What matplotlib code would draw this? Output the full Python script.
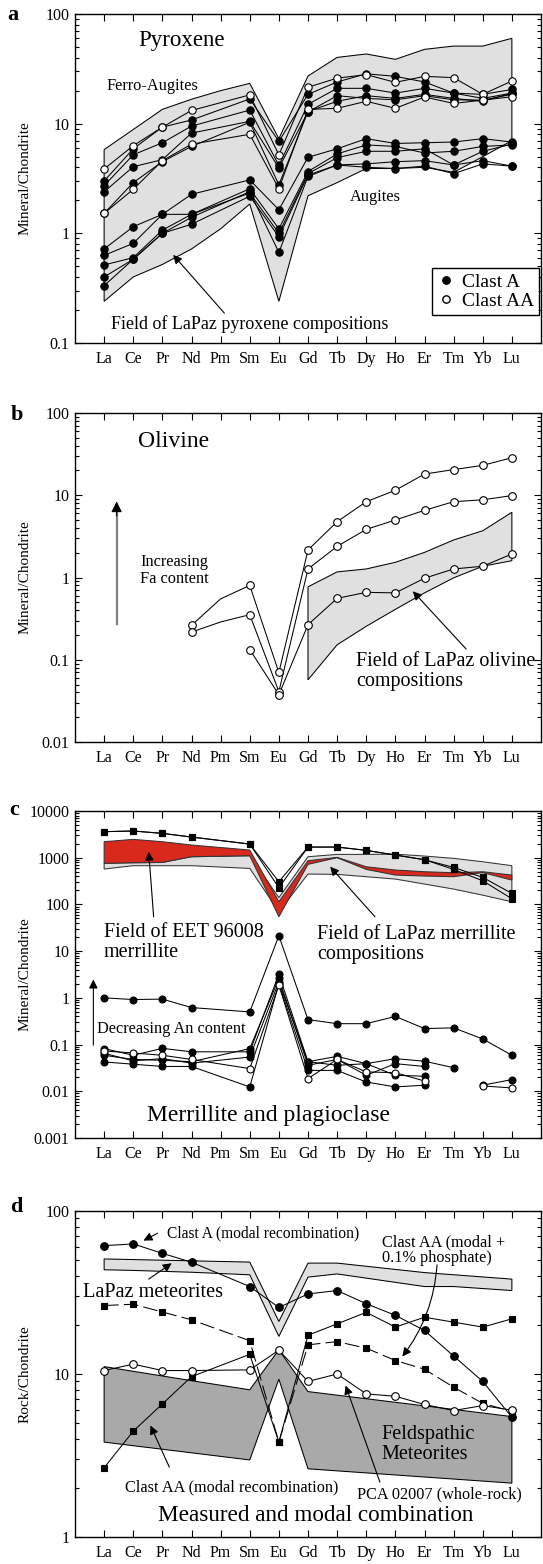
import numpy as np
import matplotlib
matplotlib.use("Agg")
import matplotlib.pyplot as plt
from matplotlib.lines import Line2D
from matplotlib.ticker import FixedLocator, LogLocator, NullFormatter

plt.rcParams['font.family'] = ['Liberation Serif', 'DejaVu Serif']
plt.rcParams['mathtext.default'] = 'regular'

nan = np.nan
REE = ['La', 'Ce', 'Pr', 'Nd', 'Pm', 'Sm', 'Eu', 'Gd', 'Tb', 'Dy', 'Ho', 'Er', 'Tm', 'Yb', 'Lu']

# ---------------- Panel a: pyroxene ----------------
pyx_clastA = [
    [3.0, 5.9, 9.3, 10.8, nan, 16.8, 6.9, 18.5, 24, 28.5, 27, 24, 19, 18.5, 20.5],
    [2.72, 5.2, 6.7, 9.5, nan, 13.3, 4.16, 15, 21, 21, 19, 21, 19, 17, 19],
    [2.39, 4.05, 4.7, 8.2, nan, 10.5, 3.95, 12.8, 18, 17, 16.5, 18, 16.5, 16.4, 18.5],
    [1.52, 2.9, 4.5, 6.2, nan, 10.3, 2.77, 12.9, 16, 18, 17, 18.5, 17, 16, 19],
    [0.72, 1.15, 1.49, 2.27, nan, 3.07, 1.64, 4.94, 5.9, 7.3, 6.6, 6.7, 6.8, 7.3, 6.8],
    [0.63, 0.81, 1.49, 1.49, nan, 2.55, 1.10, 3.66, 5.3, 6.4, 6.2, 5.4, 5.6, 6.2, 6.4],
    [0.515, 0.60, 1.07, 1.49, nan, 2.33, 1.0, 3.5, 4.9, 5.6, 5.6, 5.9, 4.2, 5.6, 6.5],
    [0.40, 0.58, 1.0, 1.21, nan, 2.18, 0.93, 3.4, 4.2, 4.3, 4.5, 4.6, 4.2, 4.6, 4.1],
    [0.333, 0.58, 1.0, 1.40, nan, 2.4, 0.67, 3.3, 4.2, 4.0, 3.9, 4.1, 3.5, 4.3, 4.1],
]
pyx_clastAA = [
    [3.86, 6.3, 9.3, 13.2, nan, 18.3, 5.2, 21.5, 26, 28, 23.8, 27, 26.3, 18.5, 24.5],
    [1.52, 2.52, 4.6, 6.5, nan, 8.0, 2.55, 13.5, 13.8, 16, 13.8, 17.5, 15.3, 16.4, 17.6],
]
pyx_field_upper_el = ['La', 'Pr', 'Nd', 'Pm', 'Sm', 'Eu', 'Gd', 'Tb', 'Dy', 'Ho', 'Er', 'Tm', 'Yb', 'Lu']
pyx_field_upper = [5.8, 13.5, 16.7, 20, 23.3, 7.3, 27.2, 40.2, 43.2, 38.6, 47.6, 51, 51, 60]
pyx_field_lower_el = ['La', 'Ce', 'Pr', 'Nd', 'Pm', 'Sm', 'Eu', 'Gd', 'Tb', 'Dy', 'Ho', 'Er', 'Tm', 'Yb', 'Lu']
pyx_field_lower = [0.24, 0.40, 0.52, 0.72, 1.1, 1.85, 0.24, 2.2, 2.9, 3.9, 3.9, 4.0, 3.6, 5.0, 7.0]

# ---------------- Panel b: olivine ----------------
oli_clastAA = [
    [nan, nan, nan, 0.262, 0.55, 0.80, 0.070, 2.16, 4.77, 8.35, 11.5, 18.1, 20.5, 23.1, 28.6],
    [nan, nan, nan, 0.217, 0.288, 0.353, 0.041, 1.27, 2.39, 3.85, 5.0, 6.56, 8.35, 8.8, 9.9],
    [nan, nan, nan, nan, nan, 0.133, 0.0376, 0.267, 0.558, 0.66, 0.65, 0.98, 1.27, 1.37, 1.93],
]
oli_field_el = ['Gd', 'Tb', 'Dy', 'Ho', 'Er', 'Tm', 'Yb', 'Lu']
oli_field_upper = [0.77, 1.17, 1.27, 1.53, 2.02, 2.86, 3.7, 6.2]
oli_field_lower = [0.057, 0.152, 0.255, 0.41, 0.65, 0.99, 1.37, 1.6]

# ---------------- Panel c: merrillite and plagioclase ----------------
merr_clastA = [
    [3610, 3730, 3320, 2770, nan, 1960, 306, 1690, 1690, 1436, 1140, 906, 621, 379, 172],
    [3610, 3730, 3320, 2770, nan, 1960, 228, 1690, 1690, 1436, 1140, 906, 562, 321, 132],
]
plag_clastA = [
    [1.0, 0.92, 0.94, 0.62, nan, 0.50, 21.3, 0.343, 0.28, 0.28, 0.40, 0.22, 0.228, 0.132, 0.059],
    [0.082, 0.059, 0.083, 0.070, nan, 0.070, 3.2, 0.043, 0.056, 0.039, 0.050, 0.044, 0.032, nan, nan],
    [0.059, 0.048, 0.046, 0.043, nan, 0.082, 2.6, 0.036, 0.048, 0.022, 0.039, 0.034, nan, nan, nan],
    [0.0425, 0.038, 0.034, 0.034, nan, 0.0124, 2.0, 0.028, 0.028, 0.0158, 0.0124, 0.0135, nan, nan, nan],
    [0.065, 0.045, 0.050, 0.040, nan, 0.054, 2.2, 0.043, 0.036, 0.039, 0.022, 0.021, nan, nan, nan],
    [nan, nan, nan, nan, nan, nan, nan, nan, nan, nan, nan, nan, nan, 0.0135, 0.0178],
]
plag_clastAA = [
    [0.073, 0.066, 0.059, 0.048, nan, 0.0306, 1.87, 0.0187, 0.048, 0.026, 0.025, 0.0166, nan, nan, nan],
    [nan, nan, nan, nan, nan, nan, nan, nan, nan, nan, nan, nan, nan, 0.013, 0.0118],
]
eet_upper = [2200, 2470, 2200, 1870, nan, 1460, 114, 862, 1016, 641, 545, 501, 477, 501, 425]
eet_lower = [757, 781, 794, 1050, nan, 1104, 54.5, 720, 1000, 562, 425, 405, 392, 480, 332]
lpm_upper = [760, 780, 790, 1050, nan, 1100, 140, 1050, 1178, 1178, 1190, 1086, 968, 820, 675]
lpm_lower = [572, 675, 675, 675, nan, 590, 70, 447, 440, 392, 349, 273, 213, 158, 114]

# ---------------- Panel d: measured and modal combination ----------------
rock_clastA_modal = [61.3, 62.8, 55, 48.5, nan, 34.4, 25.6, 31, 32.5, 27, 22.9, 18.5, 12.9, 9.0, 5.43]
rock_clastAA_modal = [2.66, 4.46, 6.55, 9.63, nan, 13.2, 3.82, 17.3, 20.3, 23.9, 19.4, 22.3, 20.8, 19.4, 21.8]
rock_clastAA_phos = [26.3, 26.8, 24, 21.5, nan, 16, 3.82, 15.1, 15.8, 14.4, 12.1, 10.7, 8.3, 6.6, 5.9]
rock_pca02007 = [10.5, 11.5, 10.5, 10.5, nan, 10.6, 14.0, 9.0, 10.0, 7.55, 7.3, 6.5, 5.97, 6.4, 6.0]
lpz_met_upper_el = ['La', 'Sm', 'Eu', 'Gd', 'Tb', 'Er', 'Lu']
lpz_met_upper = [50.8, 48.6, 21.0, 47.9, 47.9, 41.9, 38.2]
lpz_met_lower_el = ['La', 'Ce', 'Nd', 'Sm', 'Eu', 'Gd', 'Tb', 'Er', 'Tm', 'Lu']
lpz_met_lower = [43.6, 43.2, 42.1, 40.6, 17.0, 39.3, 41.1, 34.4, 34.4, 32.5]
feld_upper_el = ['La', 'Nd', 'Sm', 'Eu', 'Gd', 'Lu']
feld_upper = [11.1, 9.1, 8.0, 14.1, 7.8, 5.48]
feld_lower_el = ['La', 'Sm', 'Eu', 'Gd', 'Lu']
feld_lower = [3.82, 2.97, 9.3, 2.62, 2.14]

# ---------------- helpers ----------------
XPOS = {el: i + 1 for i, el in enumerate(REE)}
W, H = 543, 1564
fig = plt.figure(figsize=(W / 100, H / 100), dpi=100)

def make_ax(top_px, bot_px, ylo, yhi, majors, ylabel):
    ax = fig.add_axes([75 / W, 1 - bot_px / H, (541 - 75) / W, (bot_px - top_px) / H])
    ax.set_yscale('log')
    ax.set_xlim(0, 16)
    ax.set_ylim(ylo, yhi)
    ax.set_xticks(range(1, 16))
    ax.set_xticklabels(REE, fontsize=11.5)
    ax.yaxis.set_major_locator(FixedLocator(majors))
    ax.set_yticklabels([('%g' % m) for m in majors], fontsize=11.5)
    ax.yaxis.set_minor_locator(LogLocator(base=10, subs=np.arange(2, 10)))
    ax.yaxis.set_minor_formatter(NullFormatter())
    ax.tick_params(which='both', direction='in', top=True, right=True, width=0.8)
    ax.tick_params(axis='x', which='major', length=5, pad=6)
    ax.tick_params(axis='y', which='major', length=5, pad=4)
    ax.tick_params(axis='y', which='minor', length=3)
    for s in ax.spines.values():
        s.set_linewidth(1.0)
    ax.set_ylabel(ylabel, fontsize=11)
    ax.yaxis.set_label_coords(-0.094, 0.5)
    return ax

def series(ax, vals, filled=True, ms=5.3, marker='o', ls='-', mfc=None):
    v = np.array(vals, float)
    x = np.arange(1, 16)
    keep = ~(np.isnan(v) & (x == 5))
    ax.plot(x[keep], v[keep], ls=ls, color='k', lw=0.75, zorder=3)
    m = ~np.isnan(v) & (x != 5)
    face = mfc if mfc is not None else ('k' if filled else 'white')
    ax.plot(x[m], v[m], ls='none', marker=marker, mfc=face, mec='k',
            ms=ms, mew=0.8, zorder=4)

def field(ax, up_el, up, lo_el, lo, color, zorder=1):
    xs = [XPOS[e] for e in up_el] + [XPOS[e] for e in lo_el][::-1]
    ys = list(up) + list(lo)[::-1]
    ax.fill(xs, ys, facecolor=color, edgecolor='k', lw=0.75, zorder=zorder)

def field_full(ax, up, lo, color, zorder=1):
    u = np.array(up, float); l = np.array(lo, float)
    x = np.arange(1, 16)
    mu = ~np.isnan(u); ml = ~np.isnan(l)
    xs = list(x[mu]) + list(x[ml][::-1])
    ys = list(u[mu]) + list(l[ml][::-1])
    ax.fill(xs, ys, facecolor=color, edgecolor='#333333', lw=0.75, zorder=zorder)

def arrow(ax, tail, tip, color='k', fc='k', lw=0.8, ms=13, rad=0.0):
    ax.annotate('', xy=tip, xytext=tail,
                arrowprops=dict(arrowstyle='-|>', ec=color, fc=fc, lw=lw,
                                mutation_scale=ms, shrinkA=0, shrinkB=0,
                                connectionstyle='arc3,rad=%g' % rad), zorder=6)

# ---------------- Panel a ----------------
axa = make_ax(14, 343, 0.1, 100, [0.1, 1, 10, 100], 'Mineral/Chondrite')
field(axa, pyx_field_upper_el, pyx_field_upper, pyx_field_lower_el, pyx_field_lower, '#e0e0e0')
for s in pyx_clastA:
    series(axa, s, filled=True)
for s in pyx_clastAA:
    series(axa, s, filled=False)
axa.text(2.17, 57, 'Pyroxene', fontsize=16.5, va='center', ha='left')
axa.text(1.08, 22.1, 'Ferro-Augites', fontsize=11.8, va='center', ha='left')
axa.text(9.45, 2.13, 'Augites', fontsize=11.8, va='center', ha='left')
axa.text(1.22, 0.149, 'Field of LaPaz pyroxene compositions', fontsize=13, va='center', ha='left')
arrow(axa, (5.13, 0.187), (3.37, 0.636))
hA = Line2D([], [], ls='none', marker='o', mfc='k', mec='k', ms=5.3)
hAA = Line2D([], [], ls='none', marker='o', mfc='white', mec='k', ms=5.3)
leg = axa.legend([hA, hAA], ['Clast A', 'Clast AA'], loc='lower right',
                 bbox_to_anchor=(0.996, 0.085), fontsize=14, frameon=True,
                 fancybox=False, edgecolor='k', framealpha=1, borderpad=0.25,
                 handletextpad=0.3, handlelength=1.0, labelspacing=0.1, borderaxespad=0)
leg.get_frame().set_linewidth(1.0)
leg.set_zorder(10)

# ---------------- Panel b ----------------
axb = make_ax(413, 742, 0.01, 100, [0.01, 0.1, 1, 10, 100], 'Mineral/Chondrite')
field(axb, oli_field_el, oli_field_upper, oli_field_el, oli_field_lower, '#e0e0e0')
for s in oli_clastAA:
    series(axb, s, filled=False, ms=5.5)
axb.text(2.15, 45.3, 'Olivine', fontsize=17, va='center', ha='left')
axb.text(2.23, 1.22, 'Increasing\nFa content', fontsize=11.8, va='center', ha='left',
         linespacing=1.1)
axb.plot([1.43, 1.43], [0.272, 6.0], color='#808080', lw=1.6, zorder=5)
arrow(axb, (1.43, 5.6), (1.43, 8.4), color='k', fc='k', lw=0.8, ms=16)
axb.text(9.64, 0.072, 'Field of LaPaz olivine\ncompositions', fontsize=14.5,
         va='center', ha='left', linespacing=1.05)
arrow(axb, (13.43, 0.135), (11.6, 0.68))

# ---------------- Panel c ----------------
axc = make_ax(811, 1138, 0.001, 10000, [0.001, 0.01, 0.1, 1, 10, 100, 1000, 10000],
              'Mineral/Chondrite')
field_full(axc, lpm_upper, lpm_lower, '#e0e0e0', zorder=1)
field_full(axc, eet_upper, eet_lower, '#d9291d', zorder=2)
for s in merr_clastA:
    series(axc, s, filled=True, marker='s', ms=4.3)
for s in plag_clastA:
    series(axc, s, filled=True, ms=5.0)
for s in plag_clastAA:
    series(axc, s, filled=False, ms=5.0)
axc.text(0.99, 15.2, 'Field of EET 96008\nmerrillite', fontsize=14.5, va='center',
         ha='left', linespacing=1.05)
arrow(axc, (2.7, 54.5), (2.53, 1345))
axc.text(8.32, 14.0, 'Field of LaPaz merrillite\ncompositions', fontsize=14.5, va='center',
         ha='left', linespacing=1.05)
arrow(axc, (10.3, 54.5), (8.76, 641))
axc.text(0.75, 0.22, 'Decreasing An content', fontsize=11.7, va='center', ha='left')
arrow(axc, (0.63, 0.097), (0.63, 2.47), lw=0.8, ms=13)
axc.text(6.64, 0.003, 'Merrillite and plagioclase', fontsize=17, va='center', ha='center')

# ---------------- Panel d ----------------
axd = make_ax(1211, 1537, 1, 100, [1, 10, 100], 'Rock/Chondrite')
field(axd, lpz_met_upper_el, lpz_met_upper, lpz_met_lower_el, lpz_met_lower, '#e0e0e0')
field(axd, feld_upper_el, feld_upper, feld_lower_el, feld_lower, '#a9a9a9')
series(axd, rock_clastA_modal, filled=True, ms=5.5)
series(axd, rock_clastAA_modal, filled=True, marker='s', ms=4.0)
series(axd, rock_clastAA_phos, filled=True, marker='s', ms=4.0, ls=(0, (14, 5)))
series(axd, rock_pca02007, filled=False, ms=5.5)
axd.text(3.15, 73, 'Clast A (modal recombination)', fontsize=11.2, va='center', ha='left')
arrow(axd, (2.83, 73), (2.35, 65.8))
axd.text(10.53, 57.3, 'Clast AA (modal +\n0.1% phosphate)', fontsize=11.7, va='center',
         ha='left', linespacing=1.0)
arrow(axd, (12.43, 46.7), (11.24, 12.8), rad=-0.15)
axd.text(0.28, 31.6, 'LaPaz meteorites', fontsize=14.6, va='center', ha='left')
arrow(axd, (2.53, 38.2), (3.32, 47.8))
axd.text(1.72, 2.02, 'Clast AA (modal recombination)', fontsize=11.7, va='center', ha='left')
arrow(axd, (3.24, 2.68), (2.59, 4.83))
axd.text(9.67, 1.82, 'PCA 02007 (whole-rock)', fontsize=11.7, va='center', ha='left')
arrow(axd, (10.47, 2.17), (9.29, 8.5))
axd.text(10.53, 3.68, 'Feldspathic\nMeteorites', fontsize=14.6, va='center', ha='left',
         linespacing=1.05)
axd.text(8.25, 1.36, 'Measured and modal combination', fontsize=16.7, va='center',
         ha='center')

# panel letters
for lab, (px, py) in zip('abcd', [(13, 15), (17, 415), (14, 810), (16, 1207)]):
    fig.text(px / W, 1 - py / H, lab, fontsize=16, fontweight='bold', ha='center', va='center')

fig.savefig('out.png', dpi=100)
